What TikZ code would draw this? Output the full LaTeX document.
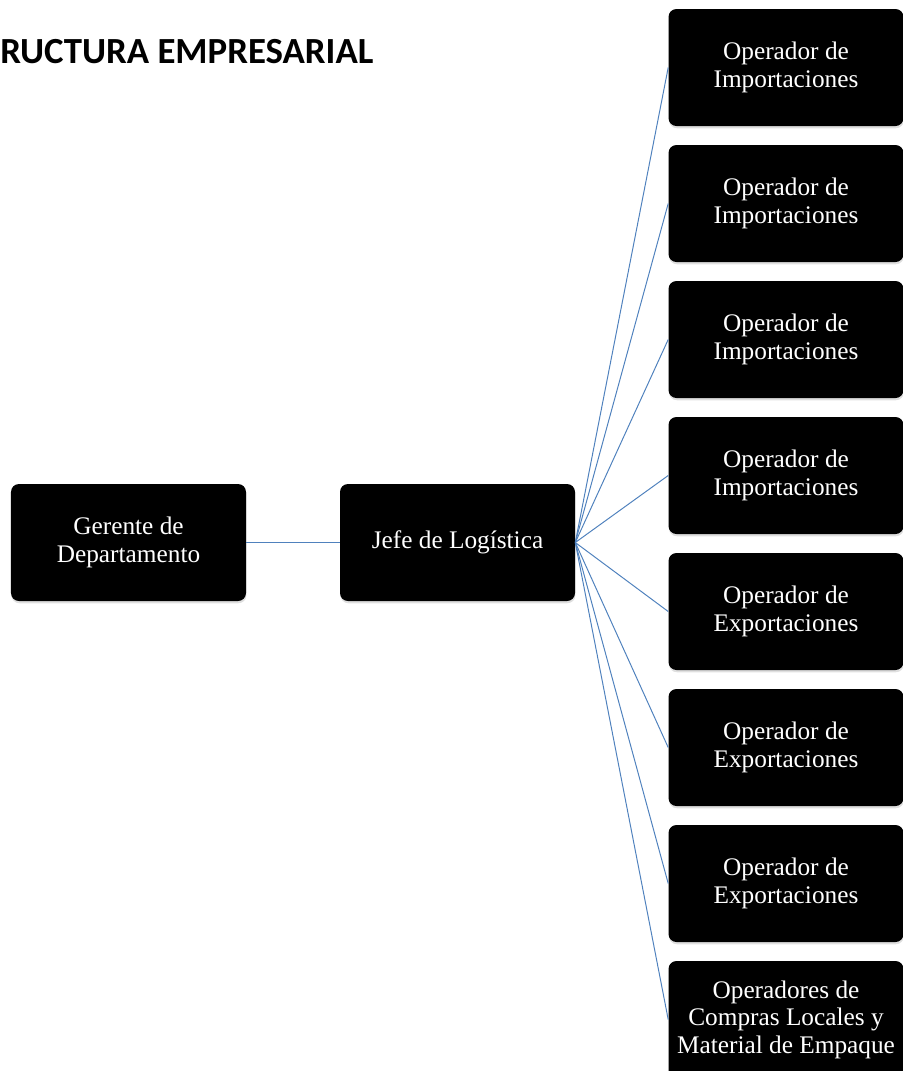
\documentclass[tikz,border=0pt]{standalone}
\usepackage{fontspec}
\setmainfont{Liberation Serif}
\newfontfamily\titlefont{Carlito}
\usetikzlibrary{shadows}
\definecolor{linkblue}{RGB}{79,129,189}
\begin{document}
\begin{tikzpicture}[
    orgbox/.style={fill=black, draw=none, rounded corners=0.2cm,
      minimum width=5.875cm, minimum height=2.925cm, inner sep=0pt,
      text=white, align=center, font=\fontsize{18}{19.5}\selectfont,
      drop shadow={shadow xshift=0.3pt, shadow yshift=-1.6pt, opacity=0.25}},
    link/.style={draw=linkblue, line width=0.7pt}
  ]
                        \useasboundingbox (0.000000,0.000000) rectangle (22.575000,-26.775000);
                        \clip (0.000000,0.000000) rectangle (22.575000,-26.775000);

                        % Title (cut off at the left edge)
                        \node (title) [anchor=base west, inner sep=0pt, font=\titlefont\bfseries\fontsize{26.2}{31}\selectfont] at (0.000000,-1.575000) {RUCTURA EMPRESARIAL};%

                        % Boxes on the left
                        \node (gerente) [orgbox] at (3.212500,-13.562500) {Gerente de\\Departamento};%
                        \node (jefe) [orgbox] at (11.437500,-13.562500) {Jefe de Log\'istica};%

                        % Boxes on the right
                        \node (opimpA) [orgbox] at (19.650000,-1.687500) {Operador de\\Importaciones};%
                        \node (opimpB) [orgbox] at (19.650000,-5.087500) {Operador de\\Importaciones};%
                        \node (opimpC) [orgbox] at (19.650000,-8.487500) {Operador de\\Importaciones};%
                        \node (opimpD) [orgbox] at (19.650000,-11.887500) {Operador de\\Importaciones};%
                        \node (opexpA) [orgbox] at (19.650000,-15.287500) {Operador de\\Exportaciones};%
                        \node (opexpB) [orgbox] at (19.650000,-18.687500) {Operador de\\Exportaciones};%
                        \node (opexpC) [orgbox] at (19.650000,-22.087500) {Operador de\\Exportaciones};%
                        \node (opcompras) [orgbox] at (19.650000,-25.487500) {Operadores de\\Compras Locales y\\Material de Empaque};%

                        % Drawing line gerente jefe
                        \draw [link] (gerente.east) -- (jefe.west);%

                        % Drawing lines jefe to operators
                        \draw [link] (jefe.east) -- (opimpA.west);%
                        \draw [link] (jefe.east) -- (opimpB.west);%
                        \draw [link] (jefe.east) -- (opimpC.west);%
                        \draw [link] (jefe.east) -- (opimpD.west);%
                        \draw [link] (jefe.east) -- (opexpA.west);%
                        \draw [link] (jefe.east) -- (opexpB.west);%
                        \draw [link] (jefe.east) -- (opexpC.west);%
                        \draw [link] (jefe.east) -- (opcompras.west);%
\end{tikzpicture}
\end{document}
